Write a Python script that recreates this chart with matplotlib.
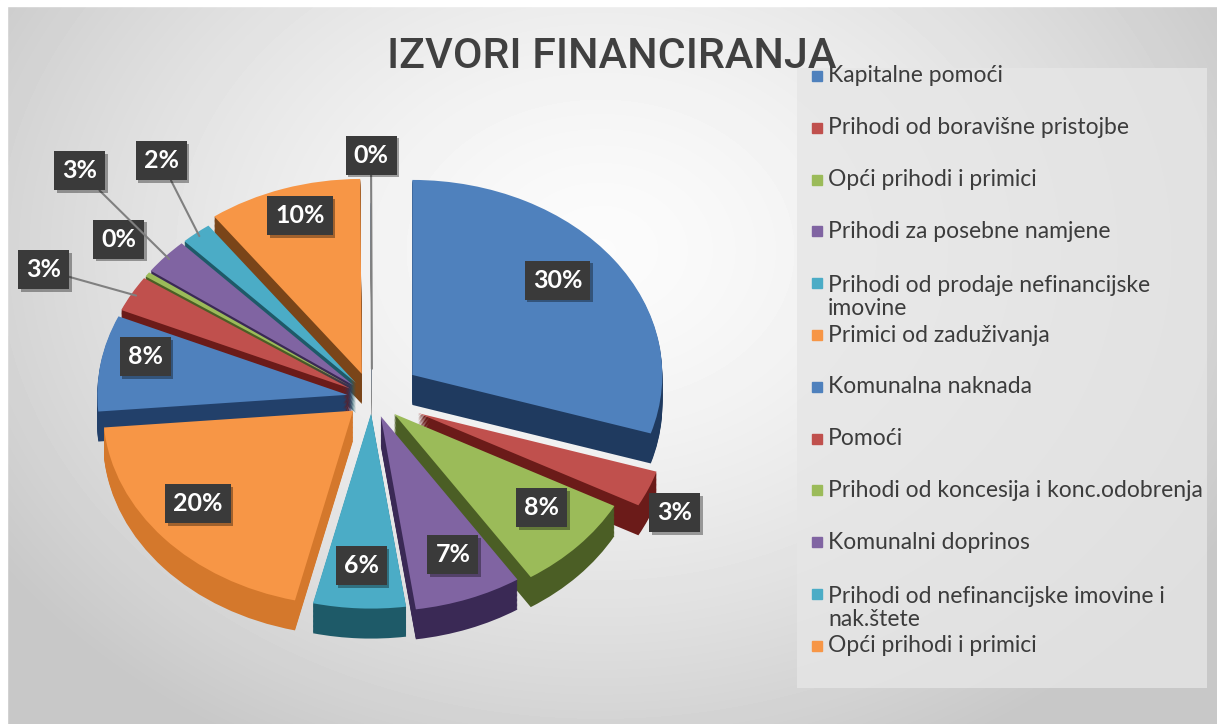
import numpy as np
import matplotlib.pyplot as plt
import matplotlib.patheffects as pe
from matplotlib.patches import Rectangle

# data (order = clockwise from 12 o'clock)
categories = ['Kapitalne pomoći', 'Prihodi od boravišne pristojbe', 'Opći prihodi i primici',
              'Prihodi za posebne namjene', 'Prihodi od prodaje nefinancijske\nimovine',
              'Primici od zaduživanja', 'Komunalna naknada', 'Pomoći',
              'Prihodi od koncesija i konc.odobrenja', 'Komunalni doprinos',
              'Prihodi od nefinancijske imovine i\nnak.štete', 'Opći prihodi i primici', '']
shares = [30, 3, 8, 7, 6, 20, 8, 3, 0.4, 3, 2, 10, 0.1]

palette = ['#4F81BD', '#C0504D', '#9BBB59', '#8064A2', '#4BACC6', '#F79646']
top_colors = [palette[i % 6] for i in range(len(shares))]
side_colors = ['#1F3A5F', '#6B1B19', '#4B5E25', '#3A2955', '#1E5A68', '#D4782C',
               '#22406A', '#6B1B19', '#4B5E25', '#3A2955', '#1E5A68', '#7A4519', '#888888']
explode = [0.2, 0.2, 0.12, 0.1, 0.08, 0.1, 0.1, 0.1, 0.1, 0.1, 0.1, 0.13, 0.0]

W, H = 1217, 724
fig = plt.figure(figsize=(W / 100, H / 100), dpi=100)

# slide background
bg = fig.add_axes([0, 0, 1, 1], zorder=-10)
yy, xx = np.mgrid[0:H, 0:W]
dist = np.sqrt(((xx - 600) / 720) ** 2 + ((yy - 250) / 560) ** 2)
shade = 0.985 - 0.20 * np.clip(dist, 0, 1) ** 1.5
bg.imshow(shade, cmap='gray', vmin=0, vmax=1, extent=(0, W, H, 0), aspect='auto')
bg.set_xlim(0, W)
bg.set_ylim(H, 0)
bg.axis('off')
bg.add_patch(Rectangle((0, 0), W, 6, color='white'))
bg.add_patch(Rectangle((0, 0), 7, H, color='white'))

# legend box (drawn by hand so the wrapped entries keep even spacing)
bg.add_patch(Rectangle((797, 68), 410, 620, facecolor='#e6e6e6', alpha=0.8, edgecolor='none'))
for i, name in enumerate(categories[:12]):
    y = 76 + i * 51.8
    bg.add_patch(Rectangle((812, y - 5), 10, 10, color=top_colors[i]))
    yt = y + 14 if '\n' in name else y
    bg.text(828, yt, name, fontsize=16.5, family='Lato', color='#3c3c3c',
            va='center', ha='left', linespacing=1.15)

fig.text(612 / W, 1 - 56 / H, 'IZVORI FINANCIRANJA', fontsize=31,
         family='Roboto', weight='medium', color='#404040', ha='center', va='center')

# pie axes, squashed so the circle looks tilted
cx, cy, rx, ry = 372, 398, 250, 195
ax_right, ax_top = 780, 110
ax = fig.add_axes([0, 0, ax_right / W, (H - ax_top) / H])
depth = 30 / ry
n_layers = 24

tops, _ = ax.pie(shares, explode=explode, colors=top_colors, startangle=90,
                 counterclock=False, wedgeprops=dict(linewidth=0))
mids = np.array([np.deg2rad((w.theta1 + w.theta2) / 2) for w in tops])
rank = np.argsort(np.argsort(-np.sin(mids)))  # top of picture drawn first
for i, w in enumerate(tops):
    w.set_zorder(2 + 2 * rank[i])

for k in range(n_layers, 0, -1):
    sides, _ = ax.pie(shares, explode=explode, colors=side_colors, startangle=90,
                      counterclock=False, center=(0, -depth * k / n_layers),
                      wedgeprops=dict(linewidth=0))
    for i, w in enumerate(sides):
        w.set_zorder(1 + 2 * rank[i])

ax.set_aspect('auto')
ax.set_xlim(-cx / rx, (ax_right - cx) / rx)
ax.set_ylim((cy - H) / ry, (cy - ax_top) / ry)
ax.axis('off')

total = sum(shares)
pct = [f'{round(v / total * 100):.0f}%' for v in shares]
box = dict(boxstyle='square,pad=0.32', fc='#3a3a3a', ec='none')
shadow = [pe.withSimplePatchShadow(offset=(2, -2), shadow_rgbFace='black', alpha=0.35)]
label_kw = dict(ha='center', va='center', fontsize=18, family='Lato', weight='bold',
                color='white', bbox=box, zorder=100)

# outside labels: slice -> (radius, angle shift in degrees, leader end radius or None)
outside = {1: (1.345, -3, None), 7: (1.47, 2.5, 1.08), 8: (1.30, -3.6, None),
           9: (1.65, -3.6, 1.08), 10: (1.48, -5, 1.08), 12: (1.246, 0, 0.15)}

for i, m in enumerate(mids):
    if i in outside:
        r, da, lead = outside[i]
        a = m + np.deg2rad(da)
        pos = (r * np.cos(a), r * np.sin(a))
        if lead is None:
            t = ax.text(*pos, pct[i], **label_kw)
        else:
            t = ax.annotate(pct[i], xy=(lead * np.cos(m), lead * np.sin(m)), xytext=pos,
                            arrowprops=dict(arrowstyle='-', color='#808080', lw=1.5,
                                            shrinkA=0, shrinkB=0), **label_kw)
    else:
        pos = (0.92 * np.cos(m), 0.92 * np.sin(m) + 0.06)
        t = ax.text(*pos, pct[i], **label_kw)
    t.get_bbox_patch().set_path_effects(shadow)

fig.savefig('out.png', dpi=100)
